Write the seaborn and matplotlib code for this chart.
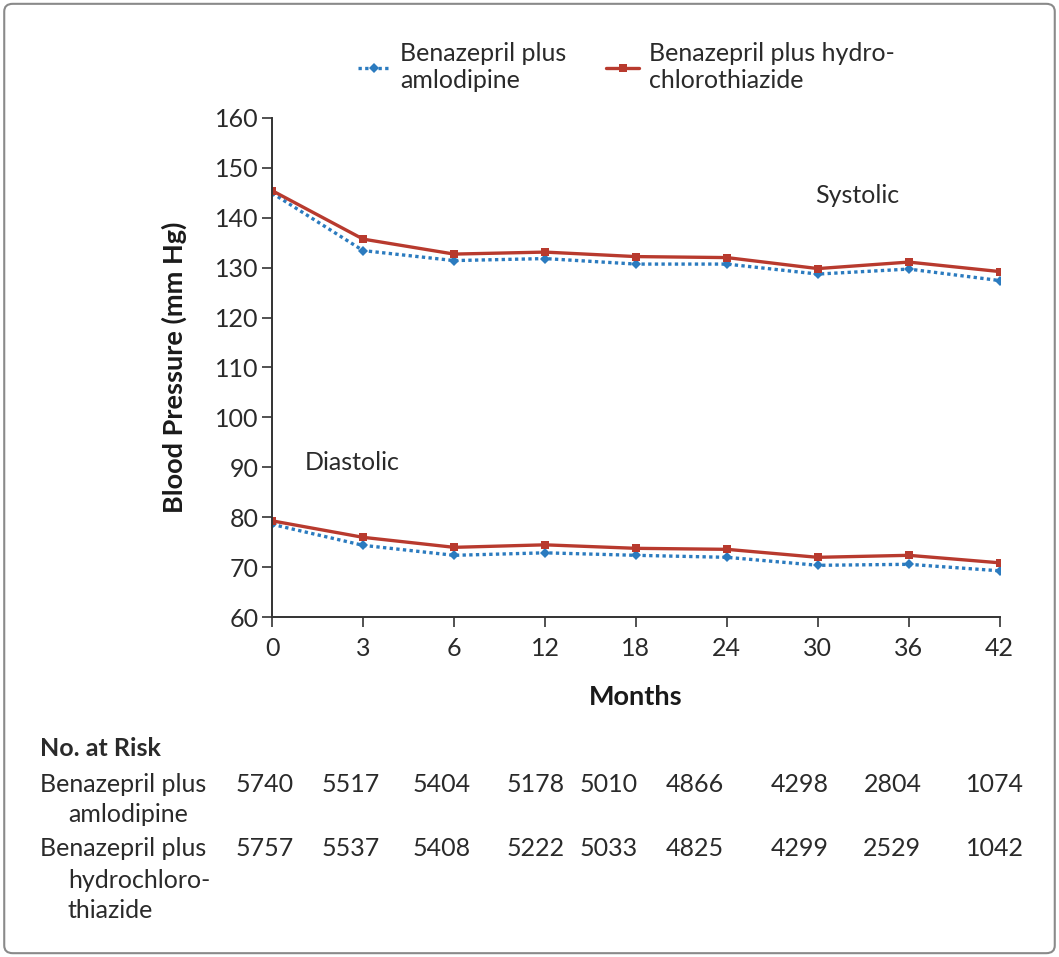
import numpy as np
import pandas as pd
import matplotlib
matplotlib.use("Agg")
import matplotlib.pyplot as plt
import seaborn as sns
from matplotlib.patches import FancyBboxPatch

# dados
months = ["0", "3", "6", "12", "18", "24", "30", "36", "42"]
sys_aml = [144.9, 133.4, 131.4, 131.8, 130.7, 130.7, 128.7, 129.7, 127.4]
sys_hctz = [145.4, 135.7, 132.7, 133.1, 132.2, 132.0, 129.8, 131.1, 129.2]
dia_aml = [78.6, 74.4, 72.4, 72.9, 72.4, 72.0, 70.4, 70.6, 69.3]
dia_hctz = [79.3, 76.0, 74.0, 74.5, 73.8, 73.6, 72.0, 72.4, 70.9]
risk_aml = [5740, 5517, 5404, 5178, 5010, 4866, 4298, 2804, 1074]
risk_hctz = [5757, 5537, 5408, 5222, 5033, 4825, 4299, 2529, 1042]

lab_aml = "Benazepril plus\namlodipine"
lab_hctz = "Benazepril plus hydro-\nchlorothiazide"

pos = list(range(len(months)))
rows = []
for trt, s, d in [(lab_aml, sys_aml, dia_aml), (lab_hctz, sys_hctz, dia_hctz)]:
    for i in pos:
        rows.append({"pos": i, "bp": s[i], "trt": trt, "measure": "sys"})
        rows.append({"pos": i, "bp": d[i], "trt": trt, "measure": "dia"})
df = pd.DataFrame(rows)

sns.set_style("ticks")
plt.rcParams['font.family'] = ['Lato', 'DejaVu Sans']

FS = 18
txt = "#2a2a2a"

fig = plt.figure(figsize=(10.59, 9.57), dpi=100)
ax = fig.add_axes([0.257, 0.355, 0.687, 0.522])

blue = "#2b7bbf"
red = "#b83a2e"
sns.lineplot(data=df, x="pos", y="bp", hue="trt", style="trt", units="measure",
             estimator=None, palette={lab_aml: blue, lab_hctz: red},
             dashes={lab_aml: (1, 1), lab_hctz: ""},
             markers={lab_aml: "D", lab_hctz: "s"},
             hue_order=[lab_aml, lab_hctz], style_order=[lab_aml, lab_hctz],
             linewidth=2.4, markersize=5.5, markeredgewidth=0, ax=ax)

ax.set_xlim(0, 8)
ax.set_ylim(60, 160)
ax.set_xticks(pos)
ax.set_xticklabels(months)
ax.set_yticks(range(60, 161, 10))
ax.tick_params(labelsize=FS, length=7, width=1.2, pad=3, color="#333333", labelcolor=txt)
ax.tick_params(axis="x", pad=7)
for side in ["top", "right"]:
    ax.spines[side].set_visible(False)
for side in ["left", "bottom"]:
    ax.spines[side].set_linewidth(1.4)
    ax.spines[side].set_color("#333333")
ax.set_xlabel("Months", fontsize=19.5, fontweight="bold", labelpad=18, color="#1a1a1a")
ax.set_ylabel("Blood Pressure (mm Hg)", fontsize=19.5, fontweight="bold", labelpad=20,
              color="#1a1a1a")

ax.text(5.97, 144.5, "Systolic", fontsize=FS, va="center", color=txt)
ax.text(0.36, 91, "Diastolic", fontsize=FS, va="center", color=txt)

ax.legend(loc="center left", bbox_to_anchor=(0.09, 1.102), ncol=2, frameon=False,
          fontsize=FS, handlelength=1.3, columnspacing=1.6, handletextpad=0.4,
          borderpad=0.3)
for t in ax.get_legend().get_texts():
    t.set_color(txt)

# tabela de pacientes em risco
def ftext(x, y, s, **kw):
    fig.text(x / 1059, 1 - y / 957, s, fontsize=FS, va="center", color=txt, **kw)

ftext(40, 748, "No. at Risk", fontweight="bold")
ftext(40, 785, "Benazepril plus")
ftext(68, 815, "amlodipine")
ftext(40, 848, "Benazepril plus")
ftext(68, 880, "hydrochloro-")
ftext(68, 910, "thiazide")

trans = matplotlib.transforms.blended_transform_factory(ax.transData, fig.transFigure)
shift = [-0.08, -0.14, -0.14, -0.1, -0.3, -0.35, -0.2, -0.18, -0.05]
for i in pos:
    ax.text(i + shift[i], 1 - 785 / 957, str(risk_aml[i]), transform=trans, ha="center",
            va="center", fontsize=FS, color=txt, clip_on=False)
    ax.text(i + shift[i], 1 - 849 / 957, str(risk_hctz[i]), transform=trans, ha="center",
            va="center", fontsize=FS, color=txt, clip_on=False)

# moldura
frame = FancyBboxPatch((0.004, 0.004), 0.992, 0.992, boxstyle="round,pad=0,rounding_size=0.008",
                       transform=fig.transFigure, fill=False, edgecolor="#8a8a8a", linewidth=1.5)
fig.patches.append(frame)

fig.savefig("out.png", dpi=100)
